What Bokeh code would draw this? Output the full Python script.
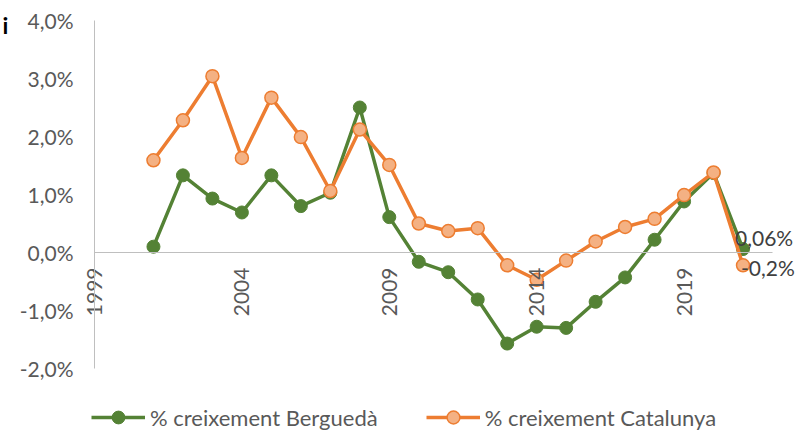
import math
from bokeh.plotting import figure
from bokeh.models import (Range1d, FixedTicker, ColumnDataSource, Legend, LegendItem,
                          LabelSet, Label, LinearAxis)
from bokeh.core.properties import value
from bokeh.embed import file_html
from bokeh.resources import INLINE

# ---- data ----
years = list(range(2001, 2022))
bergueda = [0.10, 1.33, 0.93, 0.69, 1.33, 0.80, 1.03, 2.50, 0.61, -0.16, -0.34,
            -0.81, -1.57, -1.28, -1.30, -0.85, -0.43, 0.22, 0.88, 1.37, 0.06]
catalunya = [1.59, 2.28, 3.04, 1.63, 2.67, 1.99, 1.06, 2.12, 1.51, 0.50, 0.37,
             0.42, -0.22, -0.47, -0.14, 0.19, 0.44, 0.58, 0.99, 1.38, -0.22]
series_names = ["% creixement Berguedà", "% creixement Catalunya"]
end_labels = ["0,06%", "-0,2%"]
ytick_values = [-2, -1, 0, 1, 2, 3, 4]
ytick_labels = ["-2,0%", "-1,0%", "0,0%", "1,0%", "2,0%", "3,0%", "4,0%"]
xtick_years = [1999, 2004, 2009, 2014, 2019]
x_axis_span = (1999, 2022)
y_axis_span = (-2, 4)

GREEN = "#548235"
ORANGE = "#ED7D31"
ORANGE_FILL = "#F4B183"
TXT = "#595959"
AXIS = "#bfbfbf"
FONT = "Lato"

W, H = 796, 431
# plot-area placement in pixels (layout only)
left_px, right_px, top_px, bottom_px = 94, 772, 20, 368
xs = (right_px - left_px) / (x_axis_span[1] - x_axis_span[0])
ys = (bottom_px - top_px) / (y_axis_span[1] - y_axis_span[0])
xr = Range1d(x_axis_span[0] - left_px / xs, x_axis_span[1] + (W - right_px) / xs)
yr = Range1d(y_axis_span[0] - (H - bottom_px) / ys, y_axis_span[1] + top_px / ys)

p = figure(width=W, height=H, output_backend="svg", toolbar_location=None,
           x_range=xr, y_range=yr, x_axis_location=None, y_axis_location=None,
           min_border=0)
p.grid.visible = False
p.outline_line_color = None

yax = LinearAxis(fixed_location=x_axis_span[0], bounds=y_axis_span,
                 ticker=FixedTicker(ticks=ytick_values),
                 major_label_overrides={v: l for v, l in zip(ytick_values, ytick_labels)},
                 axis_line_color=AXIS, axis_line_width=1,
                 major_tick_line_color=None, minor_tick_line_color=None,
                 major_tick_out=0, major_tick_in=0,
                 major_label_standoff=21, major_label_text_font=FONT,
                 major_label_text_font_size="21px", major_label_text_color=TXT)
p.add_layout(yax, "left")

xax = LinearAxis(fixed_location=0, bounds=x_axis_span,
                 ticker=FixedTicker(ticks=xtick_years),
                 major_label_orientation=math.pi / 2,
                 axis_line_color=AXIS, axis_line_width=1,
                 major_tick_line_color=None, minor_tick_line_color=None,
                 major_tick_out=0, major_tick_in=0,
                 major_label_standoff=15, major_label_text_font=FONT,
                 major_label_text_font_size="21px", major_label_text_color=TXT)
p.add_layout(xax, "below")

src = ColumnDataSource(dict(x=years, b=bergueda, c=catalunya))
gl = p.line("x", "b", source=src, line_color=GREEN, line_width=3.5)
gs = p.scatter("x", "b", source=src, size=13, fill_color=GREEN, line_color=GREEN)
ol = p.line("x", "c", source=src, line_color=ORANGE, line_width=3.5)
os_ = p.scatter("x", "c", source=src, size=13, fill_color=ORANGE_FILL,
                line_color=ORANGE, line_width=1.5)

lab_src = ColumnDataSource(dict(x=[years[-1], years[-1]], y=[bergueda[-1], catalunya[-1]],
                                t=end_labels, xo=[-8, -2], yo=[12, -2]))
p.add_layout(LabelSet(x="x", y="y", text="t", source=lab_src, x_offset="xo", y_offset="yo",
                      text_align="left", text_baseline="middle", text_font=value(FONT),
                      text_font_size="21px", text_color="#404040"))

p.add_layout(Label(x=2, y=H - 10, x_units="screen", y_units="screen", text="i",
                   text_baseline="top", text_font=FONT, text_font_size="23px",
                   text_font_style="bold", text_color="black"))

legend = Legend(items=[LegendItem(label=series_names[0], renderers=[gl, gs]),
                       LegendItem(label=series_names[1], renderers=[ol, os_])],
                orientation="horizontal", location=(91, -2),
                glyph_width=54, glyph_height=32, label_height=32, label_standoff=5,
                spacing=48, padding=0, margin=0, border_line_color=None,
                background_fill_alpha=0, label_text_font=FONT,
                label_text_font_size="22px", label_text_color=TXT)
p.add_layout(legend)

open("out.html", "w").write(file_html(p, INLINE))
